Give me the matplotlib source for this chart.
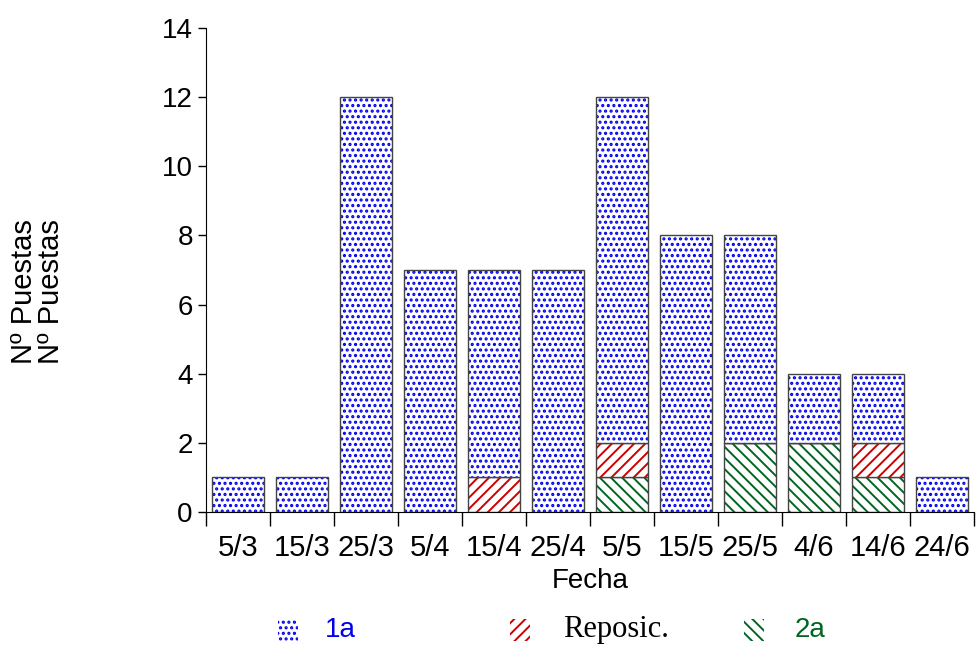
import matplotlib
matplotlib.use("Agg")
import matplotlib.pyplot as plt
import numpy as np
from matplotlib.patches import Rectangle

# Data
fechas = ["5/3", "15/3", "25/3", "5/4", "15/4", "25/4", "5/5", "15/5", "25/5", "4/6", "14/6", "24/6"]
segunda = [0, 0, 0, 0, 0, 0, 1, 0, 2, 2, 1, 0]       # 2a
reposic = [0, 0, 0, 0, 1, 0, 1, 0, 0, 0, 1, 0]       # Reposic.
primera = [1, 1, 12, 7, 6, 7, 10, 8, 6, 2, 2, 1]      # 1a

plt.rcParams["font.family"] = ["Liberation Sans", "DejaVu Sans"]

BLUE = "#0000ee"
RED = "#cc0000"
GREEN = "#006622"

fig = plt.figure(figsize=(9.76, 6.47), dpi=100)
ax = fig.add_axes([206 / 976, 1 - 512 / 647, 768 / 976, 484 / 647])

x = np.arange(len(fechas))
width = 0.8
s2 = np.array(segunda)
rp = np.array(reposic)
p1 = np.array(primera)

series = [
    (s2, np.zeros_like(s2), GREEN, "\\\\\\", 1.4),
    (rp, s2, RED, "///", 1.4),
    (p1, s2 + rp, BLUE, "...", 1.5),
]
for vals, bottom, col, hatch, hlw in series:
    # hatch drawn in its colour, outline drawn separately in grey
    with plt.rc_context({"hatch.linewidth": hlw}):
        ax.bar(x, vals, width, bottom=bottom, color="white", edgecolor=col,
               hatch=hatch, linewidth=0)
    ax.bar(x, vals, width, bottom=bottom, fill=False, edgecolor="#444444",
           linewidth=1.0)

ax.set_xlim(-0.5, len(fechas) - 0.5)
ax.set_ylim(0, 14)
ax.set_yticks(np.arange(0, 15, 2))
ax.tick_params(axis="y", labelsize=20, length=6, width=1, direction="out")

# ticks at category edges, labels at centres
ax.set_xticks(np.arange(len(fechas) + 1) - 0.5)
ax.set_xticklabels([])
ax.set_xticks(x, minor=True)
ax.set_xticklabels(fechas, minor=True)
ax.tick_params(axis="x", which="major", length=10, width=1, direction="out")
ax.tick_params(axis="x", which="minor", length=0, labelsize=21, pad=16)

for side in ["top", "right"]:
    ax.spines[side].set_visible(False)

ax.set_xlabel("Fecha", fontsize=20, labelpad=4)

# doubled y label as in the original
fig.text(24 / 976, 0.549, "Nº Puestas", rotation=90, fontsize=21, va="center", ha="center")
fig.text(51 / 976, 0.549, "Nº Puestas", rotation=90, fontsize=21, va="center", ha="center")

# legend
legend_items = [
    (278, BLUE, "...", 1.5, "1a", 325, BLUE, ["Liberation Sans"], 20),
    (510, RED, "///", 1.4, "Reposic.", 563, "black", ["Liberation Serif"], 22),
    (744, GREEN, "\\\\\\", 1.4, "2a", 795, GREEN, ["Liberation Sans"], 20),
]
for px, col, hatch, hlw, label, tx, tcol, fam, fs in legend_items:
    with plt.rc_context({"hatch.linewidth": hlw}):
        patch = Rectangle((px / 976, 1 - 641 / 647), 20 / 976, 22 / 647,
                          transform=fig.transFigure, facecolor="white",
                          edgecolor=col, hatch=hatch, linewidth=0)
    fig.patches.append(patch)
    fig.text(tx / 976, 1 - 630 / 647, label, color=tcol, fontsize=fs,
             family=fam, va="center", ha="left")

fig.savefig("out.png", dpi=100)
